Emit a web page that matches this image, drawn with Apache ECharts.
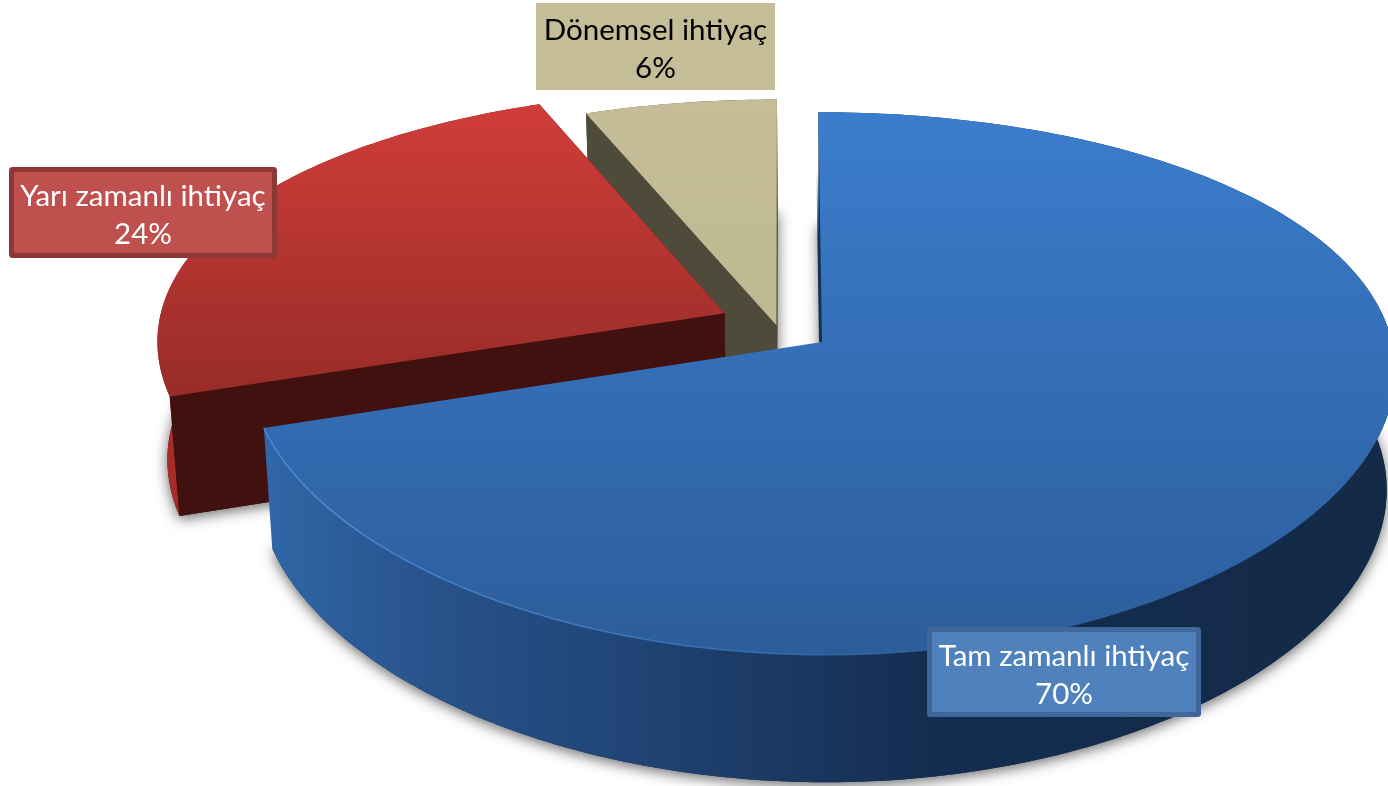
<!DOCTYPE html>
<html>
<head>
<meta charset="utf-8">
<style>
html, body {margin: 0; padding: 0; background: #fff;}
#main {width: 1388px; height: 786px;}
</style>
<script src="https://cdn.jsdelivr.net/npm/echarts@6/dist/echarts.min.js"></script>
</head>
<body>
<div id="main"></div>
<script>
var categories = ['Tam zamanlı ihtiyaç', 'Yarı zamanlı ihtiyaç', 'Dönemsel ihtiyaç'];
var values = [70, 24, 6];

// slices are pulled out of the pie by this much, in pie radius units
var explode = [[0, 0], [-0.172, 0.11], [-0.08, 0.064]];
var labelBoxes = [[927, 627, 274, 90], [9, 167, 268, 91], [536, 3, 239, 87]];

var looks = [{
    top: ['#3b7dcd', '#2c5d9b'],
    wall: [[0, '#2f67a8'], [0.15, '#28528a'], [0.35, '#1f4272'], [0.6, '#142c4f'], [1, '#132a47']],
    cut: '#133055',
    box: '#4f81bd', border: '#41679a', text: '#fff'
}, {
    top: ['#d03d39', '#982c28'],
    wall: [[0, '#a82c28'], [1, '#8a2320']],
    cut: '#41110f',
    box: '#c0504d', border: '#8c3836', text: '#fff'
}, {
    top: ['#c4bd97', '#bfb992'],
    wall: [[0, '#4f4b3a'], [1, '#4f4b3a']],
    cut: '#4f4b3a',
    box: '#c4bd97', border: null, text: '#000'
}];

// view of the pie
var cx = 822, cy = 342;
var radiusX = 570, radiusUp = 265, depth = 118;
var perspX = 0.1, perspY = 0.153, skew = 4;

function project(x, y, bottom) {
    var sx = (radiusX * x - skew * y) / (1 + perspX * y);
    var sy = -radiusUp * y / (1 + perspY * y);
    if (bottom) {
        return [cx + sx * 0.985, cy + depth + sy * 1.03];
    }
    return [cx + sx, cy + sy];
}

function rimPoint(angle, ex, bottom) {
    var a = angle * Math.PI / 180;
    return project(Math.sin(a) + ex[0], Math.cos(a) + ex[1], bottom);
}

function arc(a0, a1, ex, bottom) {
    var pts = [];
    var n = Math.ceil(Math.abs(a1 - a0));
    for (var i = 0; i <= n; i++) {
        pts.push(rimPoint(a0 + (a1 - a0) * i / n, ex, bottom));
    }
    return pts;
}

var total = values.reduce(function (s, v) { return s + v; }, 0);
var angles = [];
var sum = 0;
for (var i = 0; i < values.length; i++) {
    angles.push([sum / total * 360, (sum + values[i]) / total * 360]);
    sum += values[i];
}

function stops(list) {
    return list.map(function (s) {
        return {offset: s[0], color: s[1]};
    });
}

function renderSlice(params, api) {
    var idx = api.value(0);
    var a0 = angles[idx][0], a1 = angles[idx][1];
    var ex = explode[idx];
    var look = looks[idx];
    var children = [];

    var c0 = project(ex[0], ex[1], false);
    var c1 = project(ex[0], ex[1], true);
    var topRim = arc(a0, a1, ex, false);
    var bottomRim = arc(a0, a1, ex, true);

    // underside casts the soft shadow
    children.push({
        type: 'polygon',
        shape: {points: [c1].concat(bottomRim)},
        style: {
            fill: look.cut,
            shadowBlur: 14,
            shadowOffsetY: 3,
            shadowColor: 'rgba(0,0,0,0.6)'
        }
    });

    var wall = {
        type: 'polygon',
        shape: {points: topRim.concat(bottomRim.slice().reverse())},
        style: {fill: new echarts.graphic.LinearGradient(0, 0, 1, 0, stops(look.wall))}
    };
    // the big slice shows its rim only, the others show their cut faces too
    if (idx === 0) {
        children.push(wall);
    } else {
        children.push(wall);
        children.push({
            type: 'polygon',
            shape: {points: [c0, topRim[0], bottomRim[0], c1]},
            style: {fill: look.cut}
        });
        children.push({
            type: 'polygon',
            shape: {points: [c0, topRim[topRim.length - 1], bottomRim[bottomRim.length - 1], c1]},
            style: {fill: look.cut}
        });
    }

    if (idx === 0) {
        // dark sliver along the vertical cut
        children.push({
            type: 'polyline',
            shape: {points: [[c0[0] - 1.5, c0[1]], [topRim[0][0] - 0.5, topRim[0][1] + 60]]},
            style: {
                fill: null,
                lineWidth: 3,
                stroke: new echarts.graphic.LinearGradient(0, 0, 0, 1, stops([
                    [0, 'rgba(19,48,85,0)'], [0.4, '#133055'], [1, '#133055']
                ]))
            }
        });
    }

    children.push({
        type: 'polygon',
        shape: {points: [c0].concat(topRim)},
        style: {
            fill: new echarts.graphic.LinearGradient(0, 0, 0, 1, stops([
                [0, look.top[0]], [1, look.top[1]]
            ]))
        }
    });

    if (idx === 0) {
        // light edge on the front rim
        children.push({
            type: 'polyline',
            shape: {points: arc(130, a1, ex, false)},
            style: {
                fill: null,
                lineWidth: 1.5,
                stroke: new echarts.graphic.LinearGradient(1, 0, 0, 0, stops([
                    [0, 'rgba(74,138,214,0)'], [0.4, 'rgba(74,138,214,0.35)'], [1, '#4a8ad6']
                ]))
            }
        });
    }
    return {type: 'group', children: children};
}

function renderLabel(params, api) {
    var idx = api.value(0);
    var b = labelBoxes[idx];
    var look = looks[idx];
    var pad = look.border ? 2.5 : 0;
    return {
        type: 'group',
        children: [{
            type: 'rect',
            shape: {x: b[0] + pad, y: b[1] + pad, width: b[2] - 2 * pad, height: b[3] - 2 * pad, r: look.border ? 1 : 0},
            style: {fill: look.box, stroke: look.border, lineWidth: look.border ? 5 : 0}
        }, {
            type: 'text',
            style: {
                x: b[0] + b[2] / 2,
                y: b[1] + b[3] / 2 + 3,
                text: categories[idx] + '\n' + values[idx] + '%',
                fill: look.text,
                font: '29.5px Lato',
                lineHeight: 38,
                align: 'center',
                verticalAlign: 'middle'
            }
        }]
    };
}

var order = [2, 1, 0];

var option = {
    animation: false,
    backgroundColor: '#fff',
    series: [{
        type: 'custom',
        coordinateSystem: 'none',
        silent: true,
        renderItem: renderSlice,
        data: order.map(function (i) { return [i, values[i]]; })
    }, {
        type: 'custom',
        coordinateSystem: 'none',
        silent: true,
        z: 5,
        renderItem: renderLabel,
        data: order.map(function (i) { return [i, values[i]]; })
    }]
};

var chart = echarts.init(document.getElementById('main'));
chart.setOption(option);
</script>
</body>
</html>
